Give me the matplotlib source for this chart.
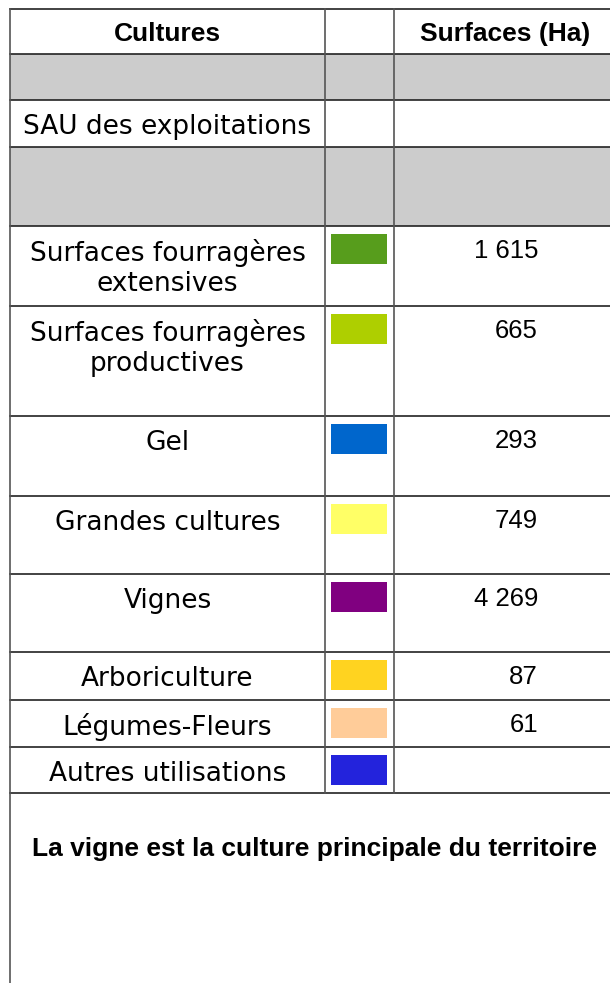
import matplotlib
matplotlib.use("Agg")
import matplotlib.pyplot as plt
from matplotlib.patches import Rectangle

# table content
cultures = ["Surfaces fourragères\nextensives", "Surfaces fourragères\nproductives", "Gel",
            "Grandes cultures", "Vignes", "Arboriculture", "Légumes-Fleurs", "Autres utilisations"]
couleurs = ["#579d1c", "#aecf00", "#0066cc", "#ffff66", "#800080", "#ffd320", "#ffcc99", "#2323dc"]
surfaces = [1615, 665, 293, 749, 4269, 87, 61, None]
entetes = ["Cultures", "", "Surfaces (Ha)"]
conclusion = "La vigne est la culture principale du territoire"

# row edges in pixels (header, gray, SAU, gray, then the crops)
bords = [9, 54, 100, 147, 226, 306, 416, 496, 574, 652, 700, 747, 793]
col_x = [10, 325, 394, 610]
mid_x = (col_x[0] + col_x[1]) / 2

fig = plt.figure(figsize=(6.1, 9.83), dpi=100)
ax = fig.add_axes([0, 0, 1, 1])
ax.set_xlim(0, 610)
ax.set_ylim(983, 0)
ax.axis("off")

# gray rows
for i in (1, 3):
    ax.add_patch(Rectangle((col_x[0], bords[i]), col_x[-1] - col_x[0], bords[i + 1] - bords[i],
                           facecolor="#cccccc", edgecolor="none"))

# grid lines
for y in bords:
    ax.plot([col_x[0], col_x[-1]], [y, y], color="#222222", lw=1.2)
for x in col_x[1:3]:
    ax.plot([x, x], [bords[0], bords[-1]], color="#555555", lw=1.2)
ax.plot([col_x[0], col_x[0]], [bords[0], 983], color="#555555", lw=1.2)

# header
ax.text(mid_x, 34, entetes[0], ha="center", va="center",
        fontsize=19, fontweight="bold", family="Liberation Sans")
ax.text(505, 34, entetes[2], ha="center", va="center",
        fontsize=19, fontweight="bold", family="Liberation Sans")

ax.text(mid_x, bords[2] + 27, "SAU des exploitations", ha="center",
        va="center", fontsize=19, family="DejaVu Sans")

for k, (nom, c, v) in enumerate(zip(cultures, couleurs, surfaces)):
    haut = bords[4 + k]
    lignes = nom.split("\n")
    for j, ligne in enumerate(lignes):
        ax.text(mid_x, haut + 27 + 31 * j, ligne, ha="center", va="center",
                fontsize=19, family="DejaVu Sans")
    ax.add_patch(Rectangle((331, haut + 8), 56, 30, facecolor=c, edgecolor="none"))
    if v is not None:
        ax.text(538, haut + 25, f"{v:,}".replace(",", " "), ha="right", va="center",
                fontsize=18.5, family="Liberation Sans")

ax.text(314, 849, conclusion, ha="center", va="center", fontsize=19,
        fontweight="bold", family="Liberation Sans")

fig.savefig("out.png", dpi=100)
